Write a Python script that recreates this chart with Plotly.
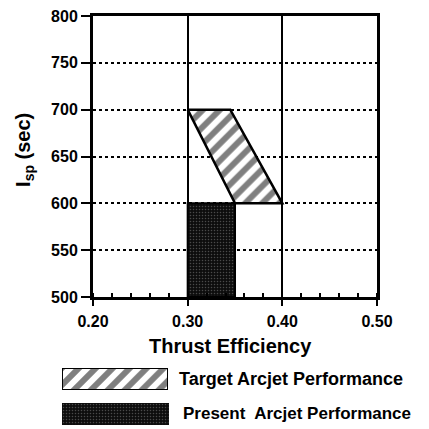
import plotly.graph_objects as go

# Data
target_eff = [0.30, 0.345, 0.40, 0.35, 0.30]
target_isp = [700, 700, 600, 600, 700]
present_eff = [0.30, 0.35, 0.35, 0.30, 0.30]
present_isp = [500, 500, 600, 600, 500]
x_ticks = [0.20, 0.30, 0.40, 0.50]
x_labels = ["0.20", "0.30", "0.40", "0.50"]
y_ticks = [500, 550, 600, 650, 700, 750, 800]
legend_labels = ["Target Arcjet Performance", "Present&nbsp; Arcjet Performance"]
swatch_x = [0, 1, 1, 0, 0]
swatch_y = [0, 0, 1, 1, 0]

FONT = "Liberation Sans, Arial, Helvetica, sans-serif"

HATCH = dict(shape="/", fgcolor="black", bgcolor="white", size=12, solidity=0.5)
STIPPLE = dict(shape=".", fgcolor="#8a8a8a", bgcolor="#0d0d0d", size=3, solidity=0.2)

fig = go.Figure()

fig.add_trace(go.Scatter(
    x=present_eff, y=present_isp, mode="lines", fill="toself",
    fillcolor="#0d0d0d", fillpattern=STIPPLE,
    line=dict(color="black", width=2), showlegend=False, hoverinfo="skip"))

fig.add_trace(go.Scatter(
    x=target_eff, y=target_isp, mode="lines", fill="toself",
    fillcolor="white", fillpattern=HATCH,
    line=dict(color="black", width=2.5), showlegend=False, hoverinfo="skip"))

# legend swatches
fig.add_trace(go.Scatter(
    x=swatch_x, y=swatch_y, xaxis="x2", yaxis="y2", mode="lines", fill="toself",
    fillcolor="white", fillpattern=HATCH,
    line=dict(color="black", width=2), showlegend=False, hoverinfo="skip"))
fig.add_trace(go.Scatter(
    x=swatch_x, y=swatch_y, xaxis="x3", yaxis="y3", mode="lines", fill="toself",
    fillcolor="#0d0d0d", fillpattern=STIPPLE,
    line=dict(color="#0d0d0d", width=1), showlegend=False, hoverinfo="skip"))

tickfont = dict(family=FONT, size=16, color="black", weight="bold")

fig.update_layout(
    width=429, height=429,
    margin=dict(l=0, r=60, t=8, b=5, autoexpand=False),
    paper_bgcolor="white", plot_bgcolor="white",
    showlegend=False,
    xaxis=dict(
        domain=[0.2304, 1.0],
        range=[0.20, 0.50], tickvals=x_ticks, ticktext=x_labels,
        showline=True, linecolor="black", linewidth=3, mirror=True,
        ticks="outside", ticklen=6, tickwidth=2, tickcolor="black",
        ticklabelstandoff=2, ticklabeloverflow="allow",
        showgrid=True, gridcolor="black", gridwidth=2,
        minor=dict(dtick=0.02, ticks="inside", ticklen=4, tickwidth=2, tickcolor="black", showgrid=False),
        tickfont=tickfont, zeroline=False, fixedrange=True,
    ),
    yaxis=dict(
        domain=[0.3245, 1.0],
        range=[500, 800], tickvals=y_ticks,
        showline=True, linecolor="black", linewidth=3, mirror=True,
        ticks="outside", ticklen=9, tickwidth=2, tickcolor="black",
        ticklabeloverflow="allow",
        showgrid=True, gridcolor="black", gridwidth=2, griddash="dot",
        tickfont=tickfont, zeroline=False, fixedrange=True,
    ),
    xaxis2=dict(domain=[0.1463, 0.4336], range=[0, 1], anchor="y2", visible=False, fixedrange=True),
    yaxis2=dict(domain=[0.101, 0.1538], range=[0, 1], anchor="x2", visible=False, fixedrange=True),
    xaxis3=dict(domain=[0.1463, 0.4363], range=[0, 1], anchor="y3", visible=False, fixedrange=True),
    yaxis3=dict(domain=[0.0168, 0.0697], range=[0, 1], anchor="x3", visible=False, fixedrange=True),
)

fig.add_annotation(
    text="Thrust Efficiency", xref="paper", yref="paper", x=0.6043, y=0.207,
    showarrow=False, xanchor="center", yanchor="middle",
    font=dict(family=FONT, size=20, color="black", weight="bold"))
fig.add_annotation(
    text="I<sub>sp</sub> (sec)", xref="paper", yref="paper", x=0.046, y=0.678,
    showarrow=False, xanchor="center", yanchor="middle", textangle=-90,
    font=dict(family=FONT, size=20, color="black", weight="bold"))
fig.add_annotation(
    text=legend_labels[0], xref="paper", yref="paper", x=0.458, y=0.1274,
    showarrow=False, xanchor="left", yanchor="middle",
    font=dict(family=FONT, size=18, color="black", weight="bold"))
fig.add_annotation(
    text=legend_labels[1], xref="paper", yref="paper", x=0.4688, y=0.0433,
    showarrow=False, xanchor="left", yanchor="middle",
    font=dict(family=FONT, size=17, color="black", weight="bold"))

fig.write_html("out.html")
